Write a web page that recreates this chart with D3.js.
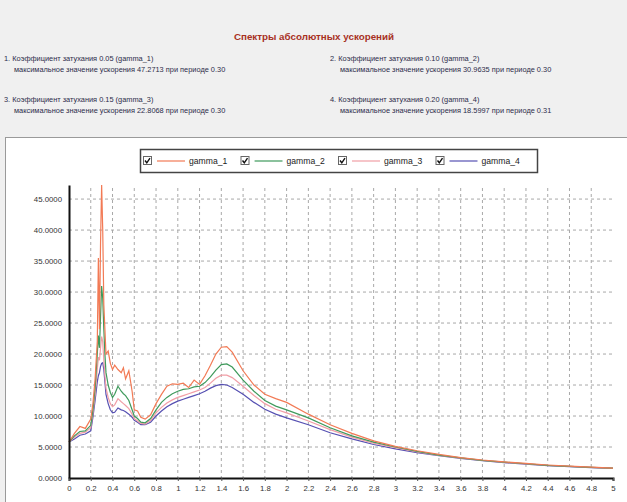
<!DOCTYPE html>
<html>
<head>
<meta charset="utf-8">
<script src="https://cdn.jsdelivr.net/npm/d3@7"></script>
<style>
  body { margin: 0; background: #f0f0f0; }
  svg { display: block; font-family: "Liberation Sans", Arial, sans-serif; }
</style>
</head>
<body>
<div id="chart"></div>
<script>
const title = 'Спектры абсолютных ускорений'
const seriesNames = ['gamma_1', 'gamma_2', 'gamma_3', 'gamma_4']
const damping = ['0.05', '0.10', '0.15', '0.20']
const maxValues = ['47.2713', '30.9635', '22.8068', '18.5997']
const maxPeriods = ['0.30', '0.30', '0.30', '0.31']
const colors = ['#f27a55', '#3f9a5c', '#f19ea6', '#5650b2']

const periods = [0, 0.05, 0.1, 0.15, 0.2, 0.22, 0.24, 0.26, 0.27, 0.28, 0.29, 0.3, 0.31, 0.32, 0.33, 0.34,
  0.36, 0.38, 0.4, 0.42, 0.45, 0.48, 0.5, 0.52, 0.55, 0.58, 0.6, 0.63, 0.66, 0.7, 0.75, 0.8, 0.85, 0.9,
  0.95, 1.0, 1.05, 1.1, 1.15, 1.2, 1.25, 1.3, 1.35, 1.4, 1.45, 1.5, 1.6, 1.7, 1.8, 1.9, 2.0, 2.2, 2.4,
  2.6, 2.8, 3.0, 3.2, 3.4, 3.6, 3.8, 4.0, 4.2, 4.4, 4.6, 4.8, 5.0]

const gamma1 = [5.8, 7.2, 8.3, 8.0, 9.5, 12, 16, 22, 35.5, 24, 38, 47.27, 40, 28, 24, 20,
  20.5, 18.5, 17.5, 18.2, 17.5, 17, 17.8, 16, 17.3, 14, 11, 10.8, 9.8, 9.5, 10.2, 12, 13.5, 14.8,
  15.2, 15.1, 15.3, 14.6, 15.8, 15.1, 16.5, 18.2, 20, 21.1, 21.2, 20.3, 17.3, 15, 13.5, 12.8, 12.2, 10.3, 8.6,
  7.2, 6.0, 5.1, 4.4, 3.8, 3.3, 2.9, 2.6, 2.35, 2.1, 1.9, 1.75, 1.6]
const gamma2 = [5.8, 6.8, 7.5, 7.6, 8.5, 11, 14.5, 20, 23, 21, 26, 30.96, 29, 24, 20, 17,
  15, 13.8, 13, 13.5, 14.8, 14, 13.6, 13.3, 12.5, 11, 10, 9.6, 9, 8.9, 9.6, 11, 12.2, 13,
  13.6, 14, 14.3, 14.4, 14.7, 14.8, 15.4, 16.3, 17.4, 18.3, 18.4, 17.9, 15.8, 14, 12.5, 11.6, 11, 9.7, 8.1,
  6.8, 5.8, 5.0, 4.3, 3.7, 3.25, 2.85, 2.55, 2.3, 2.05, 1.88, 1.72, 1.58]
const gamma3 = [5.8, 6.6, 7.2, 7.4, 8.1, 10.5, 13.5, 17.5, 19.5, 19, 21, 22.81, 22, 19, 16.5, 14.5,
  13, 12, 11.5, 11.8, 12.8, 12.3, 12, 11.7, 11.2, 10.3, 9.6, 9.2, 8.8, 8.7, 9.3, 10.5, 11.4, 12.1,
  12.6, 13, 13.3, 13.6, 13.9, 14.2, 14.6, 15.3, 16.1, 16.6, 16.6, 16.2, 14.8, 13.3, 12, 11.1, 10.5, 9.2, 7.8,
  6.6, 5.6, 4.9, 4.2, 3.65, 3.2, 2.82, 2.52, 2.28, 2.03, 1.86, 1.7, 1.56]
const gamma4 = [5.8, 6.3, 6.9, 7.1, 7.6, 9.8, 12.5, 15.5, 16.5, 17, 18, 18.5, 18.6, 17.5, 15.5, 13.5,
  12, 11, 10.5, 10.6, 11.3, 11, 10.9, 10.7, 10.3, 9.8, 9.3, 9, 8.6, 8.6, 9, 10, 10.8, 11.5,
  12, 12.4, 12.7, 13, 13.3, 13.6, 14, 14.5, 14.9, 15.1, 15.0, 14.6, 13.5, 12.2, 11.1, 10.3, 9.7, 8.6, 7.3,
  6.3, 5.4, 4.7, 4.1, 3.6, 3.15, 2.78, 2.48, 2.24, 2.0, 1.84, 1.68, 1.54]

const xTicks = d3.range(0, 26).map(i => +(i * 0.2).toFixed(1))
const yTicks = [0, 5, 10, 15, 20, 25, 30, 35, 40, 45]

const width = 627
const height = 502
const margin = { top: 185, right: 14, bottom: 24, left: 69 }

const series = [gamma1, gamma2, gamma3, gamma4].map((vals, i) => ({
  name: seriesNames[i],
  color: colors[i],
  values: vals.map((v, j) => ({ x: periods[j], y: v }))
}))

const svg = d3.select('#chart').append('svg')
  .attr('width', width)
  .attr('height', height)

// header panel
svg.append('rect').attr('width', width).attr('height', height).attr('fill', '#f0f0f0')

svg.append('text')
  .attr('x', 314).attr('y', 40)
  .attr('text-anchor', 'middle')
  .attr('font-size', 9.8).attr('font-weight', 'bold')
  .attr('fill', '#a8301f')
  .text(title)

const infoPos = [[4, 61], [330, 61], [4, 102], [330, 102]]
seriesNames.forEach((name, i) => {
  const [ix, iy] = infoPos[i]
  const t = svg.append('g').attr('font-size', 7.4).attr('fill', '#2c2c4a')
  t.append('text').attr('x', ix).attr('y', iy)
    .text(`${i + 1}. Коэффициент затухания  ${damping[i]} (${name})`)
  t.append('text').attr('x', ix + 10).attr('y', iy + 11)
    .text(`максимальное значение ускорения ${maxValues[i]} при периоде ${maxPeriods[i]}`)
})

// chart panel
svg.append('rect')
  .attr('x', 5.5).attr('y', 137.5)
  .attr('width', width).attr('height', height)
  .attr('fill', '#fff')
  .attr('stroke', '#9a9a9a')

const x = d3.scaleLinear()
  .domain([0, 5])
  .range([margin.left, width - margin.right])

const y = d3.scaleLinear()
  .domain([0, 47.2713])
  .range([height - margin.bottom, margin.top])

const grid = svg.append('g')
  .attr('stroke', '#a8a8a8')
  .attr('stroke-dasharray', '3,3')

grid.selectAll('line.v')
  .data(xTicks.filter(d => d > 0 && d < 5)).enter()
  .append('line')
  .attr('x1', d => x(d)).attr('x2', d => x(d))
  .attr('y1', y(47.2713) + 3).attr('y2', y(0))

grid.selectAll('line.h')
  .data(yTicks.filter(d => d > 0)).enter()
  .append('line')
  .attr('x1', x(0)).attr('x2', x(5))
  .attr('y1', d => y(d)).attr('y2', d => y(d))

const line = d3.line()
  .x(d => x(d.x))
  .y(d => y(d.y))

svg.append('g')
  .selectAll('path')
  .data(series.slice().reverse()).enter()
  .append('path')
  .attr('d', d => line(d.values))
  .attr('fill', 'none')
  .attr('stroke', d => d.color)
  .attr('stroke-width', 1.2)

// axes
const xAxis = svg.append('g')
  .attr('transform', `translate(0,${y(0)})`)
  .call(d3.axisBottom(x).tickValues(xTicks).tickSize(3).tickFormat(d => String(d)))
xAxis.select('.domain').attr('stroke', '#111').attr('stroke-width', 2)
xAxis.selectAll('.tick line').attr('stroke', '#555')
xAxis.selectAll('text').attr('font-size', 7.8).attr('fill', '#333').attr('dy', '0.95em')

const yAxis = svg.append('g')
  .attr('transform', `translate(${x(0)},0)`)
  .call(d3.axisLeft(y).tickValues(yTicks).tickSize(0).tickPadding(7).tickFormat(d => d.toFixed(4)))
yAxis.select('.domain').attr('stroke', '#111').attr('stroke-width', 2)
yAxis.selectAll('text').attr('font-size', 7.8).attr('fill', '#333')

// legend
const legend = svg.append('g')
legend.append('rect')
  .attr('x', 140.5).attr('y', 149.5)
  .attr('width', 397).attr('height', 23)
  .attr('fill', '#fff')
  .attr('stroke', '#444').attr('stroke-width', 1.5)

const item = legend.selectAll('g.item')
  .data(series).enter()
  .append('g')
  .attr('transform', (d, i) => `translate(${143 + i * 97.5},161)`)

item.append('rect')
  .attr('x', 0.5).attr('y', -4.5)
  .attr('width', 8).attr('height', 8)
  .attr('fill', '#fff').attr('stroke', '#666')
item.append('path')
  .attr('d', 'M2,-0.5 L3.8,1.8 L7,-2.8')
  .attr('fill', 'none').attr('stroke', '#111').attr('stroke-width', 1.4)
item.append('line')
  .attr('x1', 14).attr('x2', 42)
  .attr('stroke', d => d.color).attr('stroke-width', 1.2)
item.append('text')
  .attr('x', 46).attr('y', 3)
  .attr('font-size', 8.6).attr('fill', '#222')
  .text(d => d.name)
</script>
</body>
</html>
